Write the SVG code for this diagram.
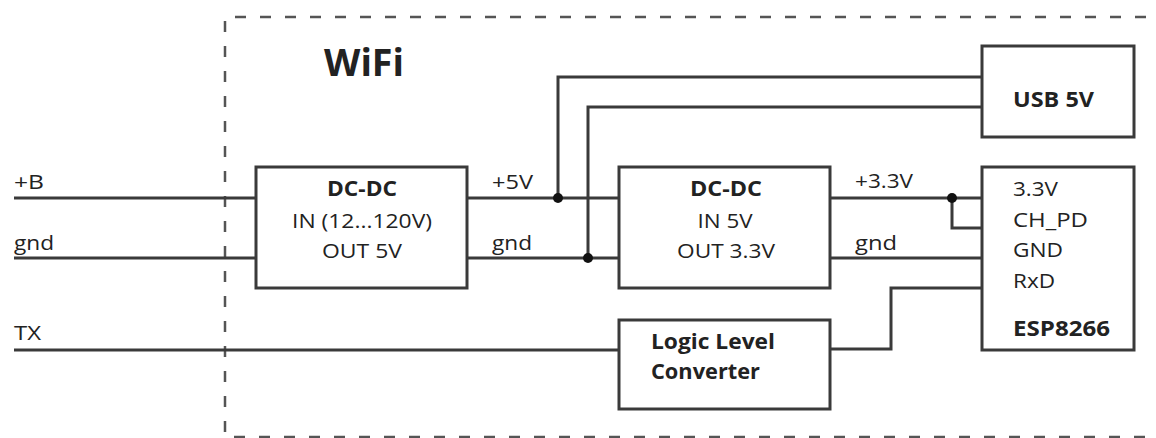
<svg xmlns="http://www.w3.org/2000/svg" width="1156" height="438" viewBox="0 0 1156 438">
<style>
.box{fill:#fff;stroke:#3a3a3a;stroke-width:3}
.w{fill:none;stroke:#3a3a3a;stroke-width:3}
.dash{fill:none;stroke:#555;stroke-width:2.5;stroke-dasharray:11 14}
text{font-family:"Open Sans","Noto Sans",sans-serif;fill:#222;font-size:20px}
.b{font-weight:bold;font-size:21px}
.c{text-anchor:middle}
</style>
<rect width="1156" height="438" fill="#fff"/>
<g id="border">
<polyline class="dash" points="1146,17 225,17 225,437 1146,437"/>
<text x="324" y="76" class="b" style="font-size:37px" textLength="80" lengthAdjust="spacingAndGlyphs">WiFi</text>
</g>
<g id="connectors">
<line class="w" x1="14" y1="198" x2="256" y2="198"/>
<line class="w" x1="14" y1="258" x2="256" y2="258"/>
<line class="w" x1="14" y1="350" x2="619" y2="350"/>
<line class="w" x1="467" y1="198" x2="619" y2="198"/>
<line class="w" x1="467" y1="258" x2="619" y2="258"/>
<polyline class="w" points="558,198 558,77 982,77"/>
<polyline class="w" points="588,258 588,107 982,107"/>
<line class="w" x1="830" y1="198" x2="982" y2="198"/>
<polyline class="w" points="952,198 952,228 982,228"/>
<line class="w" x1="830" y1="258" x2="982" y2="258"/>
<polyline class="w" points="982,288 891,288 891,349 830,349"/>
<circle cx="558" cy="198" r="5" fill="#111"/>
<circle cx="588" cy="258" r="5" fill="#111"/>
<circle cx="952" cy="198" r="5" fill="#111"/>
<text x="14" y="189" textLength="30" lengthAdjust="spacingAndGlyphs">+B</text>
<text x="14" y="250" textLength="40" lengthAdjust="spacingAndGlyphs">gnd</text>
<text x="14" y="340" textLength="27" lengthAdjust="spacingAndGlyphs">TX</text>
<text x="492" y="189" textLength="41" lengthAdjust="spacingAndGlyphs">+5V</text>
<text x="492" y="250" textLength="40" lengthAdjust="spacingAndGlyphs">gnd</text>
<text x="855" y="188" textLength="58" lengthAdjust="spacingAndGlyphs">+3.3V</text>
<text x="855" y="250" textLength="42" lengthAdjust="spacingAndGlyphs">gnd</text>
</g>
<g id="dcdc1">
<rect class="box" x="256" y="167" width="211" height="121"/>
<text x="362" y="196" class="b c" textLength="70" lengthAdjust="spacingAndGlyphs">DC-DC</text>
<text x="362" y="228" class="c" textLength="140" lengthAdjust="spacingAndGlyphs">IN (12...120V)</text>
<text x="362" y="258" class="c" textLength="80" lengthAdjust="spacingAndGlyphs">OUT 5V</text>
</g>
<g id="dcdc2">
<rect class="box" x="619" y="167" width="211" height="121"/>
<text x="726" y="196" class="b c" textLength="72" lengthAdjust="spacingAndGlyphs">DC-DC</text>
<text x="725" y="228" class="c" textLength="55" lengthAdjust="spacingAndGlyphs">IN 5V</text>
<text x="726" y="258" class="c" textLength="98" lengthAdjust="spacingAndGlyphs">OUT 3.3V</text>
</g>
<g id="usb">
<rect class="box" x="982" y="46" width="152" height="91"/>
<text x="1013" y="107" class="b" textLength="81" lengthAdjust="spacingAndGlyphs">USB 5V</text>
</g>
<g id="esp">
<rect class="box" x="982" y="167" width="152" height="183"/>
<text x="1013" y="196" textLength="45" lengthAdjust="spacingAndGlyphs">3.3V</text>
<text x="1013" y="227" textLength="75" lengthAdjust="spacingAndGlyphs">CH_PD</text>
<text x="1013" y="257" textLength="50" lengthAdjust="spacingAndGlyphs">GND</text>
<text x="1013" y="288" textLength="42" lengthAdjust="spacingAndGlyphs">RxD</text>
<text x="1013" y="336" class="b" textLength="97" lengthAdjust="spacingAndGlyphs">ESP8266</text>
</g>
<g id="llc">
<rect class="box" x="619" y="320" width="211" height="89"/>
<text x="651" y="349" class="b" textLength="124" lengthAdjust="spacingAndGlyphs">Logic Level</text>
<text x="651" y="379" class="b" textLength="109" lengthAdjust="spacingAndGlyphs">Converter</text>
</g>
</svg>
